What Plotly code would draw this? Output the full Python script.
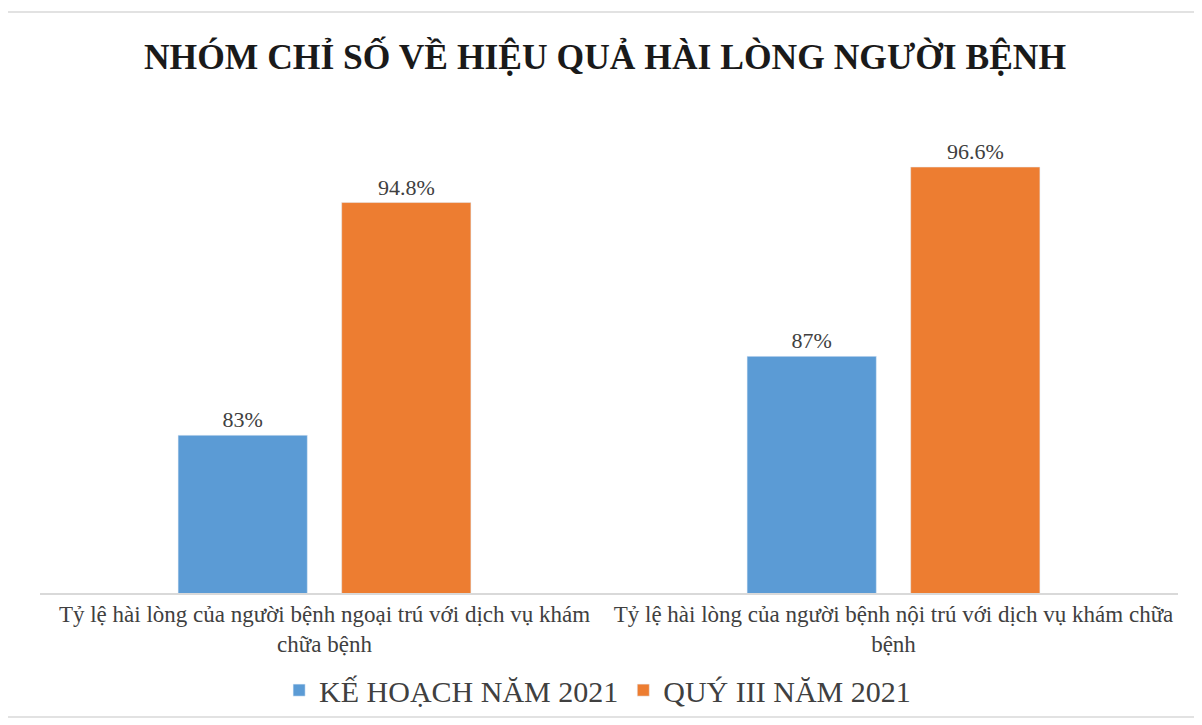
import plotly.graph_objects as go

categories = [
    "Tỷ lệ hài lòng của người bệnh ngoại trú với dịch vụ khám<br>chữa bệnh",
    "Tỷ lệ hài lòng của người bệnh nội trú với dịch vụ khám chữa<br>bệnh",
]
ke_hoach = [0.83, 0.87]
ke_hoach_labels = ["83%", "87%"]
quy_iii = [0.948, 0.966]
quy_iii_labels = ["94.8%", "96.6%"]

font_serif = "Liberation Serif, Times New Roman, serif"
text_color = "#404040"

fig = go.Figure()

fig.add_trace(go.Bar(
    x=categories,
    y=ke_hoach,
    name="KẾ HOẠCH NĂM 2021",
    marker_color="#5B9BD5",
    text=ke_hoach_labels,
    textposition="outside",
    textfont=dict(family=font_serif, size=22, color=text_color),
    cliponaxis=False,
))

fig.add_trace(go.Bar(
    x=categories,
    y=quy_iii,
    name="QUÝ III NĂM 2021",
    marker_color="#ED7D31",
    text=quy_iii_labels,
    textposition="outside",
    textfont=dict(family=font_serif, size=22, color=text_color),
    cliponaxis=False,
))

# page body has an 8px margin, so the figure is drawn a bit smaller
fig.update_layout(
    width=1194,
    height=717,
    margin=dict(l=32, r=24, t=92, b=132, autoexpand=False),
    paper_bgcolor="white",
    plot_bgcolor="white",
    barmode="group",
    bargap=0.425,
    bargroupgap=0.21,
    title=dict(
        text="<b>NHÓM CHỈ SỐ VỀ HIỆU QUẢ HÀI LÒNG NGƯỜI BỆNH</b>",
        font=dict(family=font_serif, size=35.5, color="#1a1a1a"),
        x=0.5,
        xanchor="center",
        y=1 - 49 / 717,
        yanchor="middle",
    ),
    xaxis=dict(
        showline=True,
        linecolor="#d9d9d9",
        linewidth=1.5,
        ticks="",
        automargin=False,
        tickfont=dict(family=font_serif, size=23, color=text_color),
    ),
    yaxis=dict(
        range=[0.75, 1.0],
        visible=False,
    ),
    legend=dict(
        orientation="h",
        x=0.49,
        xanchor="center",
        y=-0.197,
        yanchor="middle",
        font=dict(family=font_serif, size=30, color=text_color),
        itemwidth=30,
        traceorder="normal",
    ),
    showlegend=True,
    shapes=[dict(
        type="rect",
        xref="paper", yref="paper",
        x0=-0.0316, x1=1.0202, y0=-0.2515, y1=1.1785,
        line=dict(color="#d9d9d9", width=1.5),
        fillcolor="rgba(0,0,0,0)",
        layer="below",
    )],
)

fig.write_html("out.html")
